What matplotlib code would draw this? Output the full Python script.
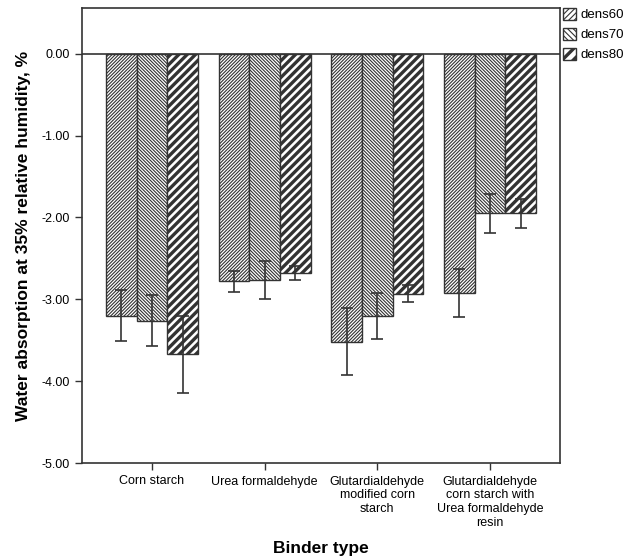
import matplotlib
matplotlib.use("Agg")
import matplotlib.pyplot as plt
import numpy as np
from matplotlib.patches import Patch

plt.rcParams['font.family'] = ['Liberation Sans', 'DejaVu Sans']

categories = ["Corn starch", "Urea formaldehyde",
              "Glutardialdehyde\nmodified corn\nstarch",
              "Glutardialdehyde\ncorn starch with\nUrea formaldehyde\nresin"]
series = ["dens60", "dens70", "dens80"]
dens60 = [-3.20, -2.78, -3.52, -2.92]
dens70 = [-3.26, -2.76, -3.20, -1.95]
dens80 = [-3.67, -2.68, -2.93, -1.95]
err60 = [0.31, 0.125, 0.41, 0.295]
err70 = [0.315, 0.23, 0.28, 0.235]
err80 = [0.47, 0.085, 0.105, 0.175]
yticks = [0.0, -1.0, -2.0, -3.0, -4.0, -5.0]

values = [dens60, dens70, dens80]
errors = [err60, err70, err80]
hatches = ['/' * 10, '\\' * 10, '/' * 4]
hatch_lw = [0.8, 0.8, 2.4]

fig = plt.figure(figsize=(6.33, 5.58), dpi=100)
W, H = 633, 558
ax = fig.add_axes([82 / W, 1 - 463 / H, 478 / W, 455 / H])

x = np.arange(len(categories))
width = 0.272
edge = '#333333'
for i, (vals, errs) in enumerate(zip(values, errors)):
    with plt.rc_context({'hatch.linewidth': hatch_lw[i], 'hatch.color': 'black'}):
        ax.bar(x + (i - 1) * width, vals, width, color='white', edgecolor=edge,
               linewidth=1.0, hatch=hatches[i], zorder=2)
    ax.errorbar(x + (i - 1) * width, vals, yerr=errs, fmt='none', ecolor='#333333',
                elinewidth=1.2, capsize=4, capthick=1.2, zorder=3)

ax.set_ylim(-5.0, 0.56)
ax.set_xlim(-0.62, 3.62)
ax.set_yticks(yticks)
ax.set_yticklabels([f"{v:.2f}" for v in yticks], fontsize=9)
ax.set_xticks(x)
ax.set_xticklabels(categories, fontsize=9, linespacing=1.2)
ax.axhline(0, color='#333333', linewidth=1.2, zorder=1)
for s in ax.spines.values():
    s.set_color('#333333')
    s.set_linewidth(1.2)
ax.tick_params(axis='both', direction='out', length=5, color='#333333', width=1)
ax.tick_params(axis='x', pad=4)
ax.set_ylabel("Water absorption at 35% relative humidity, %", fontsize=12.5,
              fontweight='bold', labelpad=8)
fig.text((82 + 478 / 2) / W, 1 - 548 / H, "Binder type", fontsize=12.5,
         fontweight='bold', ha='center', va='center')

handles = []
leg_hatch = ['/' * 6, '\\' * 6, '/' * 3]
for i in range(3):
    handles.append(Patch(facecolor='white', edgecolor=edge, hatch=leg_hatch[i],
                         label=series[i]))
leg = fig.legend(handles=handles, loc='upper left', bbox_to_anchor=(559 / W, 1 - 4 / H),
                 frameon=False, fontsize=9.5, handlelength=1.0, handleheight=1.0,
                 handletextpad=0.35, labelspacing=0.5, borderaxespad=0, borderpad=0.3)
for p, lw in zip(leg.get_patches(), hatch_lw):
    if hasattr(p, 'set_hatch_linewidth'):
        p.set_hatch_linewidth(lw)
    p.set_hatch_color('black') if hasattr(p, 'set_hatch_color') else None

fig.savefig("out.png", dpi=100)
